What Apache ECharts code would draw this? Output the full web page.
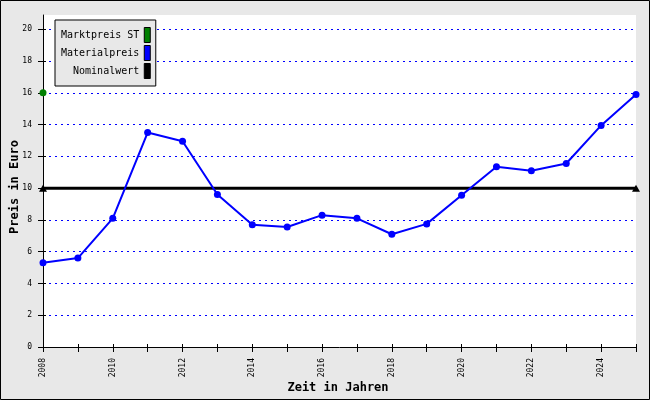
<!DOCTYPE html>
<html>
<head>
<meta charset="utf-8">
<script src="https://cdn.jsdelivr.net/npm/echarts@6/dist/echarts.min.js"></script>
<style>html,body{margin:0;padding:0;background:#e8e8e8}#c{width:650px;height:400px}</style>
</head>
<body>
<div id="c"></div>
<script>
const years = [2008,2009,2010,2011,2012,2013,2014,2015,2016,2017,2018,2019,2020,2021,2022,2023,2024,2025];
const materialpreis = [5.3,5.6,8.1,13.5,12.95,9.6,7.7,7.55,8.3,8.1,7.1,7.75,9.55,11.35,11.1,11.55,13.95,15.9];
const marktpreisYear = [2008];
const marktpreis = [16];
const nominalYears = [2008,2025];
const nominalwert = [10,10];
const yTicks = [0,2,4,6,8,10,12,14,16,18,20];
const xLabelYears = [2008,2010,2012,2014,2016,2018,2020,2022,2024];

const mono = 'DejaVu Sans Mono';
const chart = echarts.init(document.getElementById('c'), null, {renderer:'canvas'});
const gridBox = {left:43,right:14,top:15,bottom:53};
const xBase = {type:'value', min:2008, max:2025, interval:1, position:'bottom'};
const yBase = {type:'value', min:0, max:20.9, interval:2, position:'left'};
chart.setOption({
  backgroundColor:'#e8e8e8',
  animation:false,
  grid:[
    Object.assign({show:true,backgroundColor:'#ffffff',borderWidth:0}, gridBox),
    Object.assign({show:false}, gridBox)
  ],
  legend:{
    left:55, top:20, orient:'vertical', align:'right',
    backgroundColor:'#e8e8e8', borderColor:'#000', borderWidth:1, borderRadius:0,
    padding:[7,5,7,6], itemGap:2, itemWidth:6, itemHeight:15,
    icon:'rect',
    itemStyle:{borderColor:'#000',borderWidth:1},
    textStyle:{fontFamily:mono,fontSize:10,color:'#000'},
    data:['Marktpreis ST','Materialpreis','Nominalwert']
  },
  xAxis:[
    Object.assign({gridIndex:0}, xBase, {
      axisLine:{lineStyle:{color:'#000',width:1}},
      axisTick:{length:5,lineStyle:{color:'#000'}},
      axisLabel:{rotate:90,margin:11,fontFamily:mono,fontSize:8,color:'#000',
        formatter:v=>xLabelYears.indexOf(v)>=0?String(v):''},
      splitLine:{show:false}
    }),
    Object.assign({gridIndex:1}, xBase, {
      axisLine:{show:false},
      axisTick:{inside:true,length:3,lineStyle:{color:'#000'}},
      axisLabel:{show:false},
      splitLine:{show:false}
    })
  ],
  yAxis:[
    Object.assign({gridIndex:0}, yBase, {
      axisLine:{show:true,lineStyle:{color:'#000',width:1}},
      axisTick:{show:true,length:5,lineStyle:{color:'#000'},customValues:yTicks},
      axisLabel:{margin:11,fontFamily:mono,fontSize:8,color:'#000',customValues:yTicks},
      splitLine:{show:true,showMinLine:false,lineStyle:{color:'#0000ff',type:[2,4],width:1}}
    }),
    Object.assign({gridIndex:1}, yBase, {
      axisLine:{show:false},
      axisTick:{show:true,inside:true,length:3,lineStyle:{color:'#000'},customValues:yTicks},
      axisLabel:{show:false},
      splitLine:{show:false}
    })
  ],
  graphic:[
    {type:'rect',shape:{x:0.5,y:0.5,width:649,height:399},style:{fill:null,stroke:'#000',lineWidth:1},silent:true,z:100},
    {type:'text',x:338,y:388,style:{text:'Zeit in Jahren',font:'bold 12px "DejaVu Sans Mono"',fill:'#000',textAlign:'center',textVerticalAlign:'middle'}},
    {type:'text',x:15,y:187,rotation:Math.PI/2,style:{text:'Preis in Euro',font:'bold 12px "DejaVu Sans Mono"',fill:'#000',textAlign:'center',textVerticalAlign:'middle'}}
  ],
  series:[
    {name:'Nominalwert',type:'line',xAxisIndex:0,yAxisIndex:0,
      data:nominalYears.map((y,i)=>[y,nominalwert[i]]),
      color:'#000',lineStyle:{color:'#000',width:3},symbol:'triangle',symbolSize:[8,7],
      itemStyle:{color:'#000'},z:3},
    {name:'Materialpreis',type:'line',xAxisIndex:0,yAxisIndex:0,
      data:years.map((y,i)=>[y,materialpreis[i]]),
      color:'#0000ff',lineStyle:{color:'#0000ff',width:2},symbol:'circle',symbolSize:7,
      itemStyle:{color:'#0000ff'},z:4},
    {name:'Marktpreis ST',type:'line',xAxisIndex:0,yAxisIndex:0,
      data:marktpreisYear.map((y,i)=>[y,marktpreis[i]]),
      color:'#008000',symbol:'circle',symbolSize:7,
      itemStyle:{color:'#008000'},z:5}
  ]
});
</script>
</body>
</html>
